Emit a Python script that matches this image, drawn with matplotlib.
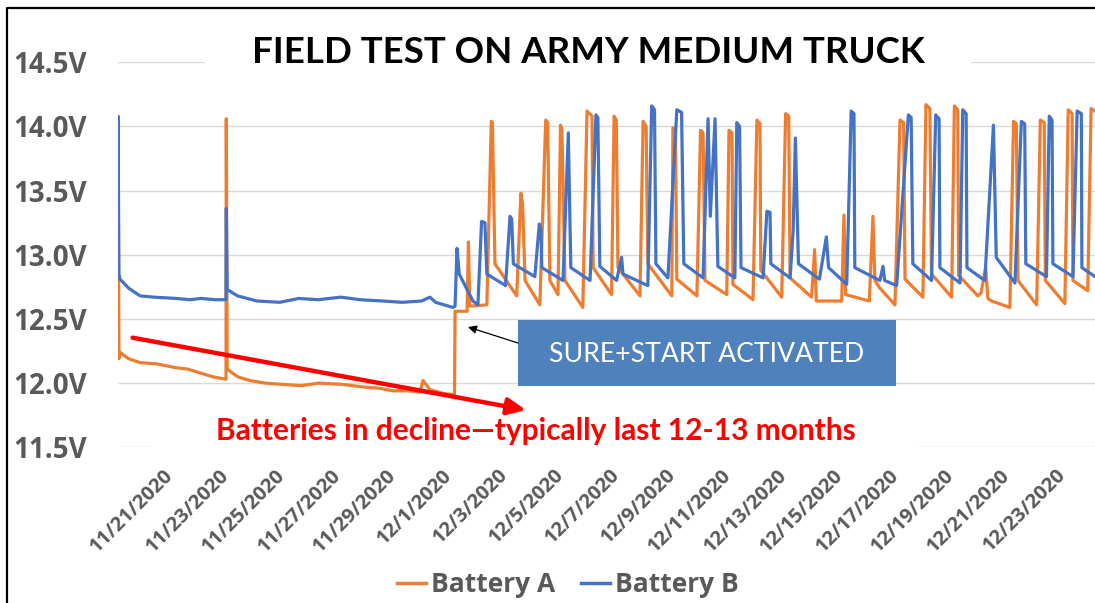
import matplotlib
matplotlib.use("Agg")
import matplotlib.pyplot as plt
import matplotlib.transforms as mtransforms
from matplotlib.patches import Rectangle, FancyArrowPatch
from matplotlib.lines import Line2D

plt.rcParams['font.family'] = ['Lato', 'DejaVu Sans']

# (days since 11/19/2020, volts)
battery_a = [
    (0.00, 12.80), (0.02, 14.07), (0.05, 12.19), (0.09, 12.24), (0.40, 12.19), (0.81, 12.16),
    (1.40, 12.15), (2.10, 12.12), (2.50, 12.11), (2.96, 12.08), (3.40, 12.05), (3.89, 12.03),
    (3.90, 14.06), (3.93, 12.11), (4.30, 12.05), (4.75, 12.02), (5.30, 12.00), (5.93, 11.99),
    (6.60, 11.98), (7.20, 12.00), (8.08, 11.99), (8.80, 11.97), (9.40, 11.96), (9.87, 11.94),
    (10.40, 11.94), (10.84, 11.93), (10.95, 12.02), (11.20, 11.95), (11.67, 11.92),
    (12.08, 11.91), (12.10, 12.56), (12.53, 12.56), (12.58, 13.10), (12.63, 12.60), (13.24, 12.61),
    (13.40, 14.04), (13.44, 14.03), (13.53, 12.93), (14.31, 12.68), (14.46, 13.48), (14.52, 13.40),
    (14.61, 12.80), (15.14, 12.61), (15.35, 14.05), (15.42, 14.03), (15.50, 12.80), (15.79, 12.69),
    (15.88, 14.01), (15.93, 13.98), (16.04, 12.80), (16.68, 12.59), (16.83, 14.12), (17.01, 14.08),
    (17.05, 12.90), (17.71, 12.69), (17.80, 14.08), (17.88, 14.05), (17.94, 12.90), (18.73, 12.68),
    (18.84, 14.04), (18.95, 14.00), (19.01, 12.93), (19.87, 12.68), (19.91, 13.99), (20.00, 13.97),
    (20.05, 12.81), (20.77, 12.68), (20.90, 13.97), (20.99, 13.95), (21.06, 12.80), (21.84, 12.69),
    (21.92, 13.97), (22.03, 13.95), (22.06, 12.77), (22.78, 12.65), (22.92, 14.05), (23.03, 14.02),
    (23.06, 12.88), (23.81, 12.67), (23.95, 14.10), (24.06, 14.08), (24.11, 12.82), (24.88, 12.67),
    (24.99, 13.04), (25.05, 12.64), (25.96, 12.64), (26.04, 13.31), (26.10, 12.69), (26.95, 12.64),
    (27.08, 13.30), (27.15, 12.80), (27.33, 12.74), (27.87, 12.61), (28.05, 14.05), (28.18, 14.03),
    (28.23, 12.81), (28.87, 12.67), (28.98, 14.17), (29.12, 14.14), (29.18, 12.85), (29.90, 12.67),
    (30.00, 14.16), (30.12, 14.13), (30.15, 12.84), (30.84, 12.68), (30.95, 12.70), (31.12, 12.90),
    (31.20, 12.66), (31.33, 12.64), (31.99, 12.59), (32.12, 14.04), (32.22, 14.02), (32.28, 12.80),
    (32.95, 12.61), (33.08, 14.05), (33.22, 14.03), (33.26, 12.80), (33.96, 12.62), (34.08, 14.13),
    (34.22, 14.10), (34.25, 12.80), (34.78, 12.72), (34.90, 14.14), (35.04, 14.12),
]

battery_b = [
    (0.00, 13.05), (0.02, 14.08), (0.05, 12.85), (0.09, 12.81), (0.40, 12.74), (0.81, 12.68),
    (1.30, 12.67), (2.10, 12.66), (2.60, 12.65), (3.00, 12.66), (3.50, 12.65), (3.89, 12.65),
    (3.90, 13.36), (3.93, 12.73), (4.30, 12.68), (5.00, 12.64), (5.82, 12.63), (6.50, 12.66),
    (7.20, 12.65), (8.00, 12.67), (8.70, 12.65), (9.50, 12.64), (10.20, 12.63), (10.90, 12.64),
    (11.20, 12.67), (11.40, 12.63), (12.02, 12.59),
    (12.10, 12.60), (12.17, 13.05), (12.25, 12.85), (12.74, 12.64), (12.92, 12.61), (13.05, 13.26),
    (13.17, 13.25), (13.24, 12.85), (13.91, 12.76), (14.07, 13.30), (14.13, 13.28), (14.19, 12.93),
    (14.96, 12.83), (15.12, 13.24), (15.18, 13.20), (15.21, 12.90), (15.97, 12.80), (16.16, 13.95),
    (16.25, 12.90), (16.94, 12.80), (17.15, 14.09), (17.22, 14.07), (17.29, 12.91), (17.89, 12.80),
    (18.07, 12.98), (18.12, 12.85), (19.01, 12.76), (19.15, 14.16), (19.25, 14.13), (19.30, 12.93),
    (19.73, 12.82), (20.05, 14.13), (20.22, 14.11), (20.30, 12.93), (20.99, 12.82), (21.17, 14.06),
    (21.25, 13.30), (21.42, 14.06), (21.52, 12.91), (22.13, 12.82), (22.20, 14.03), (22.30, 14.00),
    (22.35, 12.90), (23.14, 12.82), (23.28, 13.34), (23.39, 13.33), (23.42, 12.93), (24.11, 12.82),
    (24.22, 13.19), (24.30, 13.91), (24.41, 12.93), (25.16, 12.81), (25.41, 13.14), (25.49, 12.90),
    (26.14, 12.77), (26.30, 14.12), (26.40, 14.10), (26.43, 12.90), (27.33, 12.80), (27.44, 12.91),
    (27.50, 12.80), (27.93, 12.76), (28.35, 14.09), (28.45, 14.07), (28.51, 12.93), (29.18, 12.80),
    (29.33, 14.09), (29.45, 14.06), (29.48, 12.90), (30.20, 12.78), (30.30, 14.13), (30.42, 14.10),
    (30.45, 12.90), (31.09, 12.80), (31.40, 14.01), (31.50, 12.98), (32.17, 12.78), (32.40, 14.04),
    (32.52, 14.02), (32.56, 12.93), (33.30, 12.83), (33.40, 14.08), (33.50, 14.05), (33.53, 12.93),
    (34.25, 12.83), (34.40, 14.12), (34.55, 14.10), (34.57, 12.90), (35.04, 12.83),
]

tick_days = [2, 4, 6, 8, 10, 12, 14, 16, 18, 20, 22, 24, 26, 28, 30, 32, 34]
tick_labels = ['11/21/2020', '11/23/2020', '11/25/2020', '11/27/2020', '11/29/2020',
               '12/1/2020', '12/3/2020', '12/5/2020', '12/7/2020', '12/9/2020', '12/11/2020',
               '12/13/2020', '12/15/2020', '12/17/2020', '12/19/2020', '12/21/2020', '12/23/2020']
y_ticks = [11.5, 12.0, 12.5, 13.0, 13.5, 14.0, 14.5]

W, H = 1095, 603
fig = plt.figure(figsize=(W / 100, H / 100), dpi=100)


def fx(px):
    return px / W


def fy(py):
    return 1 - py / H


ax = fig.add_axes([fx(117.5), fy(447.3), (W - 117.5) / W, (447.3 - 62.3) / H])

ax.plot([p[0] for p in battery_a], [p[1] for p in battery_a], color='#ED7D31', lw=2.3, label='Battery A')
ax.plot([p[0] for p in battery_b], [p[1] for p in battery_b], color='#4472C4', lw=2.3, label='Battery B')

ax.set_xlim(0, 35.04)
ax.set_ylim(11.5, 14.5)
ax.set_yticks(y_ticks)
ax.set_yticklabels([f'{v:.1f}V' for v in y_ticks], family='Open Sans', fontweight='bold',
                   fontsize=20, color='#595959')
ax.set_xticks(tick_days)
ax.set_xticklabels(tick_labels, family='Open Sans', fontweight='bold', fontsize=14.5,
                   color='#595959', rotation=45, ha='right', va='center', rotation_mode='anchor')
for s in ax.spines.values():
    s.set_visible(False)
ax.grid(axis='y', color='#D9D9D9', lw=1)
ax.set_axisbelow(True)
ax.tick_params(axis='y', length=0, pad=22)
ax.tick_params(axis='x', length=0, pad=18)
shift = mtransforms.ScaledTranslation(-3 / 100, 0, fig.dpi_scale_trans)
for t in ax.get_xticklabels():
    t.set_transform(t.get_transform() + shift)

leg = fig.legend(loc='center', bbox_to_anchor=(fx(568), fy(585)), ncol=2, frameon=False,
                 handlelength=1.1, handletextpad=0.2, columnspacing=0.95,
                 prop={'family': 'Open Sans', 'size': 19, 'weight': 'bold'},
                 borderpad=0.1)
for t in leg.get_texts():
    t.set_color('#595959')
for h in leg.legend_handles:
    h.set_linewidth(2.5)

# white boxes of the title and the note, like the slide
fig.add_artist(Rectangle((fx(204.5), fy(85)), (971 - 204.5) / W, 60 / H,
                         transform=fig.transFigure, facecolor='white', edgecolor='none'))
fig.text(fx(588), fy(52.5), 'FIELD TEST ON ARMY MEDIUM TRUCK', ha='center', va='center',
         fontsize=26.4, fontweight='bold', color='black')

fig.add_artist(Rectangle((fx(153.6), fy(457)), (917.5 - 153.6) / W, 50 / H,
                         transform=fig.transFigure, facecolor='white', edgecolor='none'))
fig.text(fx(536), fy(431), 'Batteries in decline\u2014typically last 12-13 months', ha='center',
         va='center', fontsize=21.5, fontweight='bold', color='#FF0000')

fig.add_artist(FancyArrowPatch((fx(132.6), fy(337.7)), (fx(526), fy(410)), transform=fig.transFigure,
                               arrowstyle='-|>,head_length=11,head_width=5', mutation_scale=1,
                               color='#FF0000', lw=3.2, shrinkA=0, shrinkB=0))

fig.add_artist(Rectangle((fx(518), fy(386)), (896 - 518) / W, 66 / H,
                         transform=fig.transFigure, facecolor='#4F81BD', edgecolor='none'))
fig.text(fx(707), fy(354), 'SURE+START ACTIVATED', ha='center', va='center',
         fontsize=19.2, color='white')
fig.add_artist(FancyArrowPatch((fx(518), fy(343)), (fx(468), fy(327)), transform=fig.transFigure,
                               arrowstyle='-|>,head_length=5,head_width=2.5', mutation_scale=1,
                               color='black', lw=0.9, shrinkA=0, shrinkB=0))

# slide frame
fig.add_artist(Line2D([fx(7), fx(7), fx(W)], [0, fy(8), fy(8)], transform=fig.transFigure,
                      color='black', lw=1.6))

fig.savefig('out.png', dpi=100)
